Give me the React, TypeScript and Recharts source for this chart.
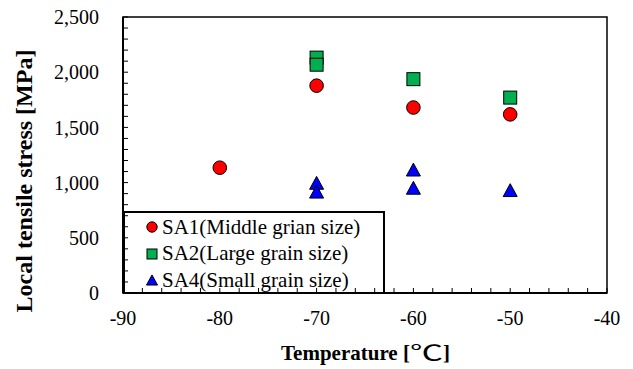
import React from 'react';
import { ScatterChart, Scatter, XAxis, YAxis, ReferenceArea, Legend, Label } from 'recharts';

// values
const sa1Temperature = [-80, -70, -60, -50];
const sa1Stress = [1135, 1878, 1680, 1618];

const sa2Temperature = [-70, -70, -60, -50];
const sa2Stress = [2132, 2068, 1937, 1770];

const sa4Temperature = [-70, -70, -60, -60, -50];
const sa4Stress = [998, 918, 1118, 953, 932];

const seriesNames = ['SA1(Middle grian size)', 'SA2(Large grain size)', 'SA4(Small grain size)'];

const xMajorTicks = [-90, -80, -70, -60, -50, -40];
const yMajorTicks = [0, 500, 1000, 1500, 2000, 2500];
const xMinorStep = 2;
const yMinorStep = 100;

const xTicks: number[] = [];
for (let v = xMajorTicks[0]; v <= xMajorTicks[xMajorTicks.length - 1]; v += xMinorStep) xTicks.push(v);
const yTicks: number[] = [];
for (let v = yMajorTicks[0]; v <= yMajorTicks[yMajorTicks.length - 1]; v += yMinorStep) yTicks.push(v);

const toPoints = (xs: number[], ys: number[]) => xs.map((x, i) => ({ x, y: ys[i] }));
const sa1Data = toPoints(sa1Temperature, sa1Stress);
const sa2Data = toPoints(sa2Temperature, sa2Stress);
const sa4Data = toPoints(sa4Temperature, sa4Stress);

const FONT = '"Liberation Serif", "Times New Roman", serif';
const RED = '#FF0000';
const GREEN = '#00B050';
const BLUE = '#0000FF';

const CircleMark = ({ cx, cy, r = 6.8 }: any) => (
  <circle cx={cx} cy={cy} r={r} fill={RED} stroke="#000" strokeWidth={1} />
);
const SquareMark = ({ cx, cy, s = 13 }: any) => (
  <rect x={cx - s / 2} y={cy - s / 2} width={s} height={s} fill={GREEN} stroke="#000" strokeWidth={1} />
);
const TriangleMark = ({ cx, cy, s = 14 }: any) => {
  const h = s * 0.92;
  return (
    <polygon
      points={`${cx},${cy - h / 2} ${cx + s / 2},${cy + h / 2} ${cx - s / 2},${cy + h / 2}`}
      fill={BLUE}
      stroke="#000"
      strokeWidth={1}
    />
  );
};

const legendMarks = [
  (c: number) => <CircleMark cx={c} cy={c} r={5.2} />,
  (c: number) => <SquareMark cx={c} cy={c} s={10} />,
  (c: number) => <TriangleMark cx={c} cy={c} s={11} />,
];

const LegendBox = () => (
  <div
    style={{
      width: 262,
      height: 83,
      border: '2px solid #000',
      boxSizing: 'border-box',
      fontFamily: FONT,
      fontSize: 21,
      color: '#000',
      paddingTop: 1,
    }}
  >
    {seriesNames.map((name, i) => (
      <div key={name} style={{ display: 'flex', alignItems: 'center', height: 26.5, whiteSpace: 'nowrap' }}>
        <svg width={14} height={14} style={{ marginLeft: 20, marginRight: 3 }}>
          {legendMarks[i](7)}
        </svg>
        <span>{name}</span>
      </div>
    ))}
  </div>
);

const yFormat = (v: number) => (v % 500 === 0 ? v.toLocaleString('en-US') : '');
const xFormat = (v: number) => (v % 10 === 0 ? String(v) : '');

export default function App() {
  return (
    <div style={{ position: 'absolute', left: 0, top: 0, width: 633, height: 369, background: '#fff' }}>
      <ScatterChart width={633} height={369} margin={{ top: 17, right: 26, bottom: 46, left: 63 }}>
        <XAxis
          type="number"
          dataKey="x"
          domain={[-90, -40]}
          ticks={xTicks}
          interval={0}
          tickFormatter={xFormat}
          height={30}
          tickSize={-5}
          tickMargin={23}
          axisLine={{ stroke: '#000', strokeWidth: 2 }}
          tickLine={{ stroke: '#000', strokeWidth: 1 }}
          tick={{ fill: '#000', fontSize: 20, fontFamily: FONT }}
        >
          <Label
            content={() => (
              <text x={281} y={360} textAnchor="start" fontFamily={FONT} fontSize={21} fontWeight="bold" fill="#000">
                Temperature [
                <tspan fontFamily='"Noto Sans CJK JP", "DejaVu Sans", sans-serif' fontWeight="normal" textLength={33} lengthAdjust="spacingAndGlyphs">
                  ℃
                </tspan>
                ]
              </text>
            )}
          />
        </XAxis>
        <YAxis
          type="number"
          dataKey="y"
          domain={[0, 2500]}
          ticks={yTicks}
          interval={0}
          tickFormatter={yFormat}
          width={60}
          tickSize={-5}
          tickMargin={29}
          axisLine={{ stroke: '#000', strokeWidth: 2 }}
          tickLine={{ stroke: '#000', strokeWidth: 1 }}
          tick={{ fill: '#000', fontSize: 20, fontFamily: FONT }}
        >
          <Label
            content={() => (
              <text
                x={32}
                y={181}
                transform="rotate(-90 32 181)"
                textAnchor="middle"
                fontFamily={FONT}
                fontSize={24}
                fontWeight="bold"
                fill="#000"
              >
                Local tensile stress [MPa]
              </text>
            )}
          />
        </YAxis>
        <ReferenceArea
          x1={-90}
          x2={-40}
          y1={0}
          y2={2500}
          fill="none"
          stroke="#000"
          strokeWidth={1.5}
          ifOverflow="visible"
        />
        <Legend
          layout="vertical"
          align="center"
          verticalAlign="middle"
          content={() => <LegendBox />}
          wrapperStyle={{ left: 123, top: 211, width: 262, height: 83 }}
        />
        <Scatter name={seriesNames[0]} data={sa1Data} shape={(p: any) => <CircleMark cx={p.cx} cy={p.cy} />} isAnimationActive={false} />
        <Scatter name={seriesNames[1]} data={sa2Data} shape={(p: any) => <SquareMark cx={p.cx} cy={p.cy} />} isAnimationActive={false} />
        <Scatter name={seriesNames[2]} data={sa4Data} shape={(p: any) => <TriangleMark cx={p.cx} cy={p.cy} />} isAnimationActive={false} />
      </ScatterChart>
    </div>
  );
}
